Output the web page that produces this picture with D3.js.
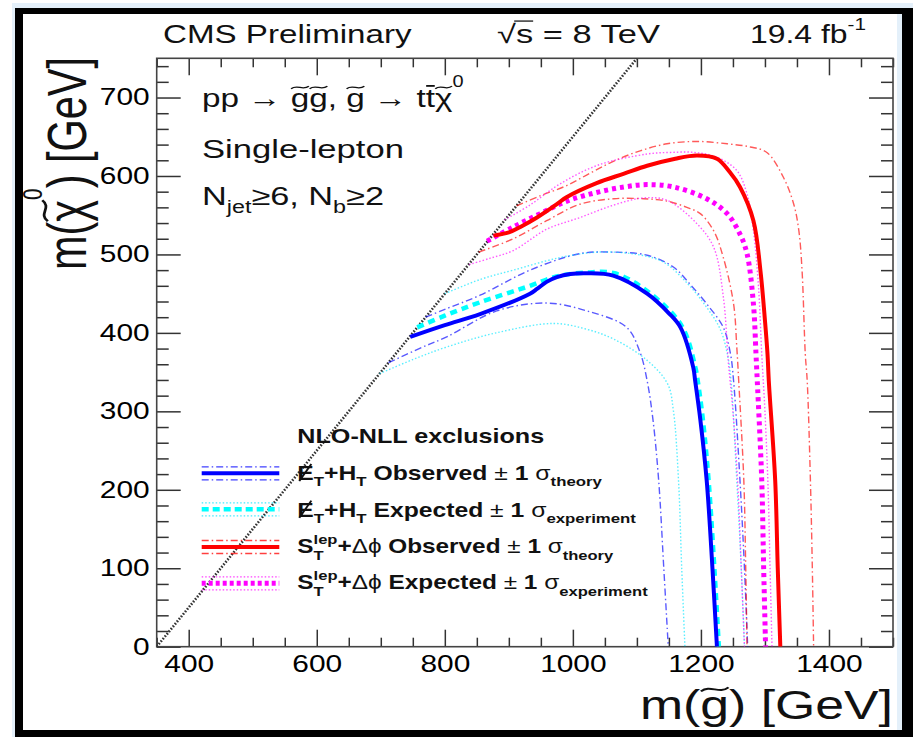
<!DOCTYPE html>
<html><head><meta charset="utf-8">
<script src="https://cdn.jsdelivr.net/npm/d3@7"></script>
<style>body{margin:0;background:#fff} svg{display:block}</style>
</head><body><svg id="c" width="913" height="737"></svg>
<script>
// ---------------- data ----------------
const xDomain = [350, 1500];
const yDomain = [0, 750];
const xMajor = [400, 600, 800, 1000, 1200, 1400];
const yMajor = [0, 100, 200, 300, 400, 500, 600, 700];
const kinLimit = [[350, 0], [1100, 750]];

// MET+HT observed and +-1 sigma theory
const obsHT = [[746,395],[800,410],[855,424],[933,450],[944,456],[959,465],[975,471],[996,475],[1022,476],[1063,473],[1116,450],[1150,425],[1168,407],[1188,356],[1191,339],[1199,290],[1209,212],[1218,100],[1225,0]];
const obsHTup = [[770,420],[800,430],[855,448],[933,480],[1011,501],[1060,503],[1116,499],[1157,484],[1183,462],[1209,437],[1235,407],[1246,374],[1251,339],[1261,212],[1268,100],[1273,0]];
const obsHTdn = [[712,362],[760,380],[803,395],[881,428],[959,438],[1022,428],[1084,407],[1105,375],[1116,339],[1125,290],[1134,212],[1142,100],[1149,0]];
// MET+HT expected and +-1 sigma experiment
const expHT = [[757,407],[800,422],[855,439],[933,460],[959,468],[980,473],[1022,477],[1065,476],[1118,452],[1170,409],[1191,357],[1195,339],[1203,290],[1212,212],[1221,100],[1228,0]];
const expHTup = [[800,450],[855,468],[907,480],[980,496],[1040,503],[1100,500],[1142,490],[1180,462],[1205,437],[1230,405],[1242,370],[1247,339],[1256,212],[1263,100],[1268,0]];
const expHTdn = [[698,348],[750,366],[803,382],[880,400],[970,412],[1020,405],[1064,392],[1116,365],[1148,335],[1157,301],[1165,212],[1170,100],[1175,0]];
// ST^lep + dphi observed and +-1 sigma theory
const obsST = [[876,524],[900,528],[918,535],[944,547],[975,564],[990,573],[1037,591],[1080,603],[1116,613],[1160,622],[1194,626],[1225,622],[1245,605],[1261,586],[1282,543],[1293,479],[1300,416],[1304,373],[1306,339],[1316,212],[1320,100],[1324,0]];
const obsSTup = [[912,562],[950,575],[991,588],[1030,605],[1064,619],[1105,632],[1147,641],[1194,644],[1241,641],[1277,637],[1303,630],[1329,598],[1345,564],[1353,530],[1358,479],[1363,373],[1366,339],[1371,212],[1374,100],[1376,0]];
const obsSTdn = [[853,503],[907,520],[959,543],[1011,564],[1064,571],[1110,571],[1147,568],[1178,560],[1199,552],[1220,530],[1235,496],[1251,437],[1256,382],[1259,339],[1267,212],[1270,100],[1272,0]];
// ST^lep + dphi expected and +-1 sigma experiment
const expST = [[866,517],[907,535],[949,552],[991,568],[1037,579],[1080,586],[1116,589],[1157,586],[1209,571],[1241,552],[1261,526],[1272,501],[1282,437],[1286,373],[1288,339],[1295,212],[1298,100],[1301,0]];
const expSTup = [[893,544],[933,563],[980,590],[1040,614],[1116,628],[1152,630],[1190,630],[1225,624],[1256,607],[1272,577],[1282,530],[1290,458],[1295,373],[1300,300],[1305,200],[1308,100],[1311,0]];
const expSTdn = [[838,487],[870,495],[907,505],[959,532],[1011,547],[1064,563],[1110,572],[1147,569],[1194,539],[1220,509],[1235,446],[1243,361],[1250,300],[1258,200],[1263,100],[1268,0]];

// ---------------- setup ----------------
const FONT = '"Liberation Sans", Arial, Helvetica, sans-serif';
const W = 913, H = 737;
const M = {l: 156.7, r: 893, t: 58.3, b: 646.7};
const svg = d3.select('#c');
const x = d3.scaleLinear().domain(xDomain).range([M.l, M.r]);
const y = d3.scaleLinear().domain(yDomain).range([M.b, M.t]);

// page frame
svg.append('rect').attr('width', W).attr('height', H).attr('fill', '#fff');
svg.append('rect').attr('x', 12).attr('y', 3).attr('width', 901).attr('height', 734).attr('fill', '#e4f0fa');
svg.append('rect').attr('x', 15).attr('y', 8).attr('width', 898).attr('height', 729).attr('fill', '#000');
svg.append('rect').attr('x', 23).attr('y', 14).attr('width', 879).attr('height', 716).attr('fill', '#e4f0fa');
svg.append('rect').attr('x', 23).attr('y', 14).attr('width', 874).attr('height', 716).attr('fill', '#fff');

// ---------------- rich text helper ----------------
function measure(str, size, weight) {
  const t = svg.append('text').attr('font-family', FONT).attr('font-size', size)
    .attr('font-weight', weight || 'normal').text(str);
  const w = t.node().getComputedTextLength();
  t.remove();
  return w;
}
function rich(o) {
  const outer = svg.append('g').attr('transform', `translate(${o.x},${o.y})` + (o.rotate ? ` rotate(${o.rotate})` : ''));
  const inner = outer.append('g');
  const col = o.fill || '#111';
  const text = inner.append('text').attr('x', 0).attr('y', 0)
    .attr('font-family', FONT).attr('font-size', o.size)
    .attr('font-weight', o.weight || 'normal').attr('fill', col)
    .style('white-space', 'pre');
  let shift = 0, idx = 0;
  const marks = [];
  for (const p of o.parts) {
    const small = p.sub || p.sup;
    const fs = p.scale ? o.size * p.scale : (small ? o.size * 0.68 : o.size);
    const target = p.sub ? o.size * (p.drop || 0.32) : p.sup ? -o.size * (p.rise || 0.45) : 0;
    const ts = text.append('tspan').text(p.t).attr('font-size', fs);
    if (target !== shift) ts.attr('dy', target - shift);
    if (p.dx) ts.attr('dx', p.dx);
    if (p.w) ts.attr('font-weight', p.w);
    shift = target;
    if (p.mark) marks.push({i: idx, mark: p.mark, base: target, fs});
    idx += p.t.length;
  }
  const bb = text.node().getBBox();
  const sx = o.width ? o.width / bb.width : (o.sx || 1.3);
  const sy = o.sy || 1;
  let tx = -bb.x;
  if (o.anchor === 'end') tx = -(bb.x + bb.width);
  else if (o.anchor === 'middle') tx = -(bb.x + bb.width / 2);
  inner.attr('transform', `scale(${sx},${sy}) translate(${tx},0)`);
  for (const m of marks) {
    const e = text.node().getExtentOfChar(m.i);
    const fs = m.fs, b = m.base, w = e.width;
    if (m.mark === 'tilde') {
      const x0 = e.x + w * 0.02, x1 = e.x + w * 0.98, yc = b - fs * 0.74, a = fs * 0.05;
      inner.append('path')
        .attr('d', `M${x0},${yc + a} C${x0 + (x1 - x0) * 0.35},${yc - 2.6 * a} ${x0 + (x1 - x0) * 0.65},${yc + 2.6 * a} ${x1},${yc - a}`)
        .attr('fill', 'none').attr('stroke', col).attr('stroke-width', fs * 0.05);
    } else if (m.mark === 'bar') {
      inner.append('line').attr('x1', e.x + w * 0.05).attr('x2', e.x + w * 0.98)
        .attr('y1', b - fs * 0.8).attr('y2', b - fs * 0.8)
        .attr('stroke', col).attr('stroke-width', fs * 0.07);
    } else if (m.mark === 'slash') {
      inner.append('line').attr('x1', e.x + w * 0.12).attr('y1', b + fs * 0.06)
        .attr('x2', e.x + w * 0.85).attr('y2', b - fs * 0.8)
        .attr('stroke', col).attr('stroke-width', fs * 0.08);
    } else if (m.mark === 'overline') {
      inner.append('line').attr('x1', e.x - w * 0.1).attr('x2', e.x + w)
        .attr('y1', b - fs * 0.86).attr('y2', b - fs * 0.86)
        .attr('stroke', col).attr('stroke-width', fs * 0.05);
    }
  }
  return outer;
}

// ---------------- axes ----------------
const minorX = d3.range(xDomain[0], xDomain[1] + 1, 50).filter(v => !xMajor.includes(v));
const minorY = d3.range(yDomain[0], yDomain[1] + 1, 20).filter(v => !yMajor.includes(v));

function styleAxis(g) {
  g.select('.domain').remove();
  g.selectAll('line').attr('stroke', '#333').attr('stroke-width', 1.5);
  g.selectAll('text').attr('font-family', FONT).attr('font-size', 23).attr('fill', '#000');
}
const axB = svg.append('g').attr('transform', `translate(0,${M.b})`)
  .call(d3.axisBottom(x).tickValues(xMajor).tickSize(-17).tickPadding(9).tickFormat(d3.format('d')));
styleAxis(axB);
axB.selectAll('text').attr('transform', 'scale(1.3,1)');
svg.append('g').attr('transform', `translate(0,${M.b})`)
  .call(d3.axisBottom(x).tickValues(minorX).tickSize(-9).tickFormat('')).call(styleAxis);
svg.append('g').attr('transform', `translate(0,${M.t})`)
  .call(d3.axisTop(x).tickValues(xMajor).tickSize(-17).tickFormat('')).call(styleAxis);
svg.append('g').attr('transform', `translate(0,${M.t})`)
  .call(d3.axisTop(x).tickValues(minorX).tickSize(-9).tickFormat('')).call(styleAxis);

const axL = svg.append('g').attr('transform', `translate(${M.l},0)`)
  .call(d3.axisLeft(y).tickValues(yMajor).tickSize(-24).tickPadding(5.4).tickFormat(d3.format('d')));
styleAxis(axL);
axL.selectAll('text').attr('transform', 'scale(1.3,1)');
svg.append('g').attr('transform', `translate(${M.l},0)`)
  .call(d3.axisLeft(y).tickValues(minorY).tickSize(-12).tickFormat('')).call(styleAxis);
svg.append('g').attr('transform', `translate(${M.r},0)`)
  .call(d3.axisRight(y).tickValues(yMajor).tickSize(-24).tickFormat('')).call(styleAxis);
svg.append('g').attr('transform', `translate(${M.r},0)`)
  .call(d3.axisRight(y).tickValues(minorY).tickSize(-12).tickFormat('')).call(styleAxis);

svg.append('rect').attr('x', M.l).attr('y', M.t).attr('width', M.r - M.l).attr('height', M.b - M.t)
  .attr('fill', 'none').attr('stroke', '#444').attr('stroke-width', 1.6);

// ---------------- curves ----------------
svg.append('clipPath').attr('id', 'clip').append('rect')
  .attr('x', M.l).attr('y', M.t).attr('width', M.r - M.l).attr('height', M.b - M.t);
const plot = svg.append('g').attr('clip-path', 'url(#clip)');
const line = d3.line().x(d => x(d[0])).y(d => y(d[1])).curve(d3.curveCatmullRom.alpha(0.5));
const lineStraight = d3.line().x(d => x(d[0])).y(d => y(d[1]));

plot.append('path').attr('d', lineStraight(kinLimit)).attr('fill', 'none')
  .attr('stroke', '#333').attr('stroke-width', 2.6).attr('stroke-dasharray', '1.6,1.6');

const DASHDOT = '7,3,1.5,3', DOT = '1.5,2';
const thin = [
  [obsHTup, '#0000ff', DASHDOT], [obsHTdn, '#0000ff', DASHDOT],
  [expHTup, '#00e5ff', DOT], [expHTdn, '#00e5ff', DOT],
  [obsSTup, '#ff0000', DASHDOT], [obsSTdn, '#ff0000', DASHDOT],
  [expSTup, '#ff00ff', DOT], [expSTdn, '#ff00ff', DOT]
];
thin.forEach(([d, c, da]) => {
  plot.append('path').attr('d', line(d)).attr('fill', 'none').attr('stroke', c)
    .attr('stroke-width', 1.4).attr('stroke-dasharray', da).attr('opacity', 0.65);
});
plot.append('path').attr('d', line(expHT)).attr('fill', 'none').attr('stroke', '#00ffff')
  .attr('stroke-width', 4.5).attr('stroke-dasharray', '7,5');
plot.append('path').attr('d', line(expST)).attr('fill', 'none').attr('stroke', '#ff00ff')
  .attr('stroke-width', 5).attr('stroke-dasharray', '4,4');
plot.append('path').attr('d', line(obsHT)).attr('fill', 'none').attr('stroke', '#0000ff')
  .attr('stroke-width', 4);
plot.append('path').attr('d', line(obsST)).attr('fill', 'none').attr('stroke', '#ff0000')
  .attr('stroke-width', 4);

// ---------------- header text ----------------
rich({x: 163, y: 43, size: 25.5, width: 249, parts: [{t: 'CMS Preliminary'}]});
rich({x: 497, y: 43, size: 25.5, width: 163, parts: [{t: '√'}, {t: 's', mark: 'overline'}, {t: ' = 8 TeV'}]});
rich({x: 750, y: 43, size: 25.5, width: 116, parts: [{t: '19.4 fb'}, {t: '-1', sup: 1, rise: 0.5, scale: 0.65}]});

// ---------------- in-plot text ----------------
rich({x: 202, y: 106.7, size: 26, width: 262, parts: [
  {t: 'pp → '}, {t: 'g', mark: 'tilde'}, {t: 'g', mark: 'tilde'}, {t: ', '}, {t: 'g', mark: 'tilde'},
  {t: ' → t'}, {t: 't', mark: 'bar'}, {t: 'χ', mark: 'tilde'}, {t: '0', sup: 1, rise: 0.75, scale: 0.6}]});
rich({x: 202, y: 158.3, size: 26, width: 202, parts: [{t: 'Single-lepton'}]});
rich({x: 202, y: 205, size: 26, width: 182, parts: [
  {t: 'N'}, {t: 'jet', sub: 1}, {t: '≥6, N'}, {t: 'b', sub: 1}, {t: '≥2'}]});

// ---------------- axis titles ----------------
rich({x: 893, y: 719, size: 40, width: 253, anchor: 'end', parts: [
  {t: 'm('}, {t: 'g', mark: 'tilde'}, {t: ') [GeV]'}]});
rich({x: 86, y: 57, size: 41, width: 213, sy: 1.35, rotate: -90, anchor: 'end', parts: [
  {t: 'm('}, {t: 'χ', mark: 'tilde'}, {t: '0', sup: 1, rise: 0.8, scale: 0.5}, {t: ') [GeV]'}]});

// ---------------- legend ----------------
const LX0 = 201.7, LX1 = 279.3, TX = 297.3;
rich({x: TX, y: 443.3, size: 20, weight: 'bold', width: 247, parts: [{t: 'NLO-NLL exclusions'}]});
const wLep = measure('lep', 20 * 0.68, 'bold');
const wT = measure('T', 20 * 0.68, 'bold');
const legendRows = [
  {ly: 473.3, base: 480, end: 602.7, color: '#0000ff', thick: null, thinDash: DASHDOT, thinCol: '#0000ff', tw: 4,
   parts: [{t: 'E', mark: 'slash'}, {t: 'T', sub: 1}, {t: '+H'}, {t: 'T', sub: 1}, {t: ' Observed '},
           {t: '±', w: 'normal'}, {t: ' 1 '}, {t: 'σ', w: 'normal'}, {t: 'theory', sub: 1}]},
  {ly: 509.3, base: 516.7, end: 636.7, color: '#00ffff', thick: '7,4', thinDash: DOT, thinCol: '#00e5ff', tw: 4.5,
   parts: [{t: 'E', mark: 'slash'}, {t: 'T', sub: 1}, {t: '+H'}, {t: 'T', sub: 1}, {t: ' Expected '},
           {t: '±', w: 'normal'}, {t: ' 1 '}, {t: 'σ', w: 'normal'}, {t: 'experiment', sub: 1}]},
  {ly: 547, base: 553.3, end: 614, color: '#ff0000', thick: null, thinDash: DASHDOT, thinCol: '#ff0000', tw: 4,
   parts: [{t: 'S'}, {t: 'lep', sup: 1}, {t: 'T', sub: 1, dx: -wLep}, {t: '+', dx: wLep - wT}, {t: 'Δϕ', w: 'normal'},
           {t: ' Observed '}, {t: '±', w: 'normal'}, {t: ' 1 '}, {t: 'σ', w: 'normal'}, {t: 'theory', sub: 1}]},
  {ly: 583.3, base: 589.3, end: 648.3, color: '#ff00ff', thick: '4,3', thinDash: DOT, thinCol: '#ff00ff', tw: 5,
   parts: [{t: 'S'}, {t: 'lep', sup: 1}, {t: 'T', sub: 1, dx: -wLep}, {t: '+', dx: wLep - wT}, {t: 'Δϕ', w: 'normal'},
           {t: ' Expected '}, {t: '±', w: 'normal'}, {t: ' 1 '}, {t: 'σ', w: 'normal'}, {t: 'experiment', sub: 1}]}
];
legendRows.forEach(r => {
  [-6.5, 6.5].forEach(off => {
    svg.append('line').attr('x1', LX0).attr('x2', LX1).attr('y1', r.ly + off).attr('y2', r.ly + off)
      .attr('stroke', r.thinCol).attr('stroke-width', 1.3).attr('stroke-dasharray', r.thinDash).attr('opacity', 0.75);
  });
  const l = svg.append('line').attr('x1', LX0).attr('x2', LX1).attr('y1', r.ly).attr('y2', r.ly)
    .attr('stroke', r.color).attr('stroke-width', r.tw);
  if (r.thick) l.attr('stroke-dasharray', r.thick);
  rich({x: TX, y: r.base, size: 20, weight: 'bold', width: r.end - TX, parts: r.parts});
});
</script>
</body></html>
